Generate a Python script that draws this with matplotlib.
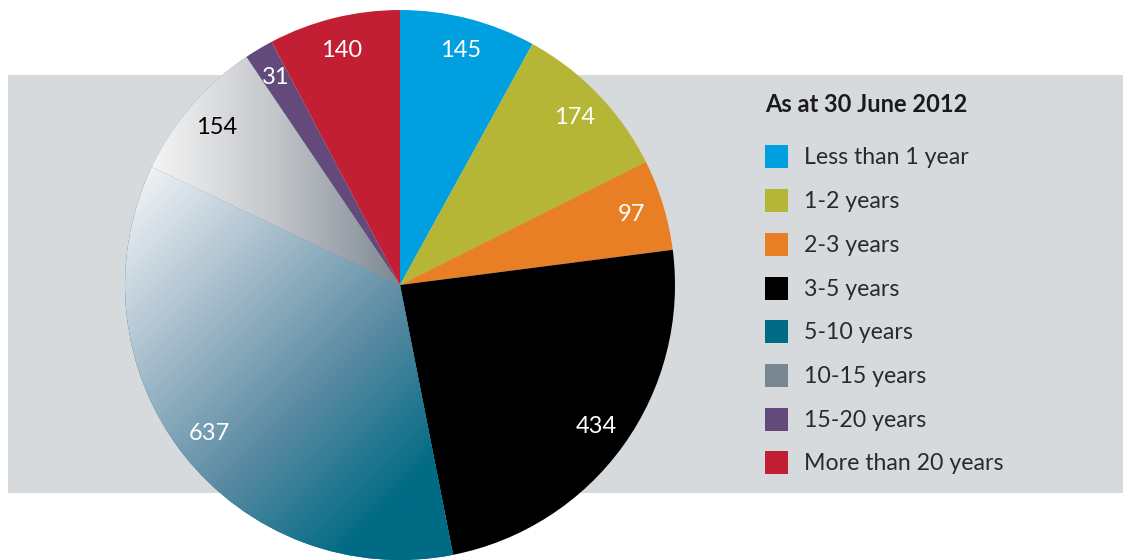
import numpy as np
import matplotlib
matplotlib.use("Agg")
import matplotlib.pyplot as plt
from matplotlib.patches import Rectangle
from matplotlib.colors import LinearSegmentedColormap

# data
categories = ["Less than 1 year", "1-2 years", "2-3 years", "3-5 years",
              "5-10 years", "10-15 years", "15-20 years", "More than 20 years"]
counts = [145, 174, 97, 434, 637, 154, 31, 140]
colors = ["#009fe0", "#b5b536", "#e87f25", "#000000",
          "#006b84", "#7a8690", "#634a7b", "#c21f35"]
label_colors = ["white", "white", "white", "white", "white", "black", "white", "white"]
title = "As at 30 June 2012"

plt.rcParams["font.family"] = ["Lato", "DejaVu Sans"]

W, H = 1123, 560
fig = plt.figure(figsize=(W / 100, H / 100), dpi=100)

# grey band behind everything
fig.patches.append(Rectangle((8 / W, 1 - 493 / H), (W - 8) / W, (493 - 75) / H,
                             transform=fig.transFigure, facecolor="#d7dadd",
                             edgecolor="none", zorder=-5))

# pie axes: centre (400, 285) px, radius 275 px
cx, cy, r = 400, 285, 275
ax = fig.add_axes([(cx - r) / W, 1 - (cy + r) / H, 2 * r / W, 2 * r / H])
ax.set_xlim(-1, 1)
ax.set_ylim(-1, 1)
ax.set_aspect("equal")
ax.axis("off")
ax.patch.set_alpha(0)

total = sum(counts)
wedges, texts, autotexts = ax.pie(
    counts, colors=colors, startangle=90, counterclock=False, radius=1,
    autopct=lambda p: f"{round(p * total / 100):d}", pctdistance=0.88,
    textprops=dict(fontsize=17),
    wedgeprops=dict(linewidth=0))
for t, c in zip(autotexts, label_colors):
    t.set_color(c)
    t.set_zorder(5)

# gradient fills for the two lighter slices
n = 400
xs = np.linspace(-1, 1, n)
X, Y = np.meshgrid(xs, xs[::-1])

# 5-10 years: diagonal from light top-left to teal
p0 = np.array([-0.945, 0.382])
p1 = np.array([0.109, -0.673])
d = p1 - p0
t = ((X - p0[0]) * d[0] + (Y - p0[1]) * d[1]) / (d @ d)
t = np.clip(t, 0, 1)
cmap1 = LinearSegmentedColormap.from_list(
    "teal", ["#eef1f4", "#a5bccb", "#5a8ba3", "#006b84"])
im1 = ax.imshow(cmap1(t), extent=[-1, 1, -1, 1], zorder=2, interpolation="bilinear")
im1.set_clip_path(wedges[4])

# 10-15 years: horizontal from white to grey
t2 = np.clip((X + 0.91) / 0.91, 0, 1)
cmap2 = LinearSegmentedColormap.from_list("grey", ["#f5f5f5", "#c3c6ca", "#7d8892"])
im2 = ax.imshow(cmap2(t2), extent=[-1, 1, -1, 1], zorder=2, interpolation="bilinear")
im2.set_clip_path(wedges[5])

ax.set_xlim(-1, 1)
ax.set_ylim(-1, 1)

# legend drawn by hand
fig.text(765 / W, 1 - 105 / H, title, fontsize=17, fontweight="bold",
         color="#1a1a1a", va="center", ha="left")
y0, step = 157, 43.7
for i, (lab, col) in enumerate(zip(categories, colors)):
    yc = y0 + i * step
    fig.patches.append(Rectangle((765 / W, 1 - (yc + 11.5) / H), 23 / W, 23 / H,
                                 transform=fig.transFigure, facecolor=col,
                                 edgecolor="none", zorder=3))
    fig.text(804 / W, 1 - (yc + 1) / H, lab, fontsize=16.7,
             color="#2a2a2a", va="center", ha="left")

fig.savefig("out.png", dpi=100)
